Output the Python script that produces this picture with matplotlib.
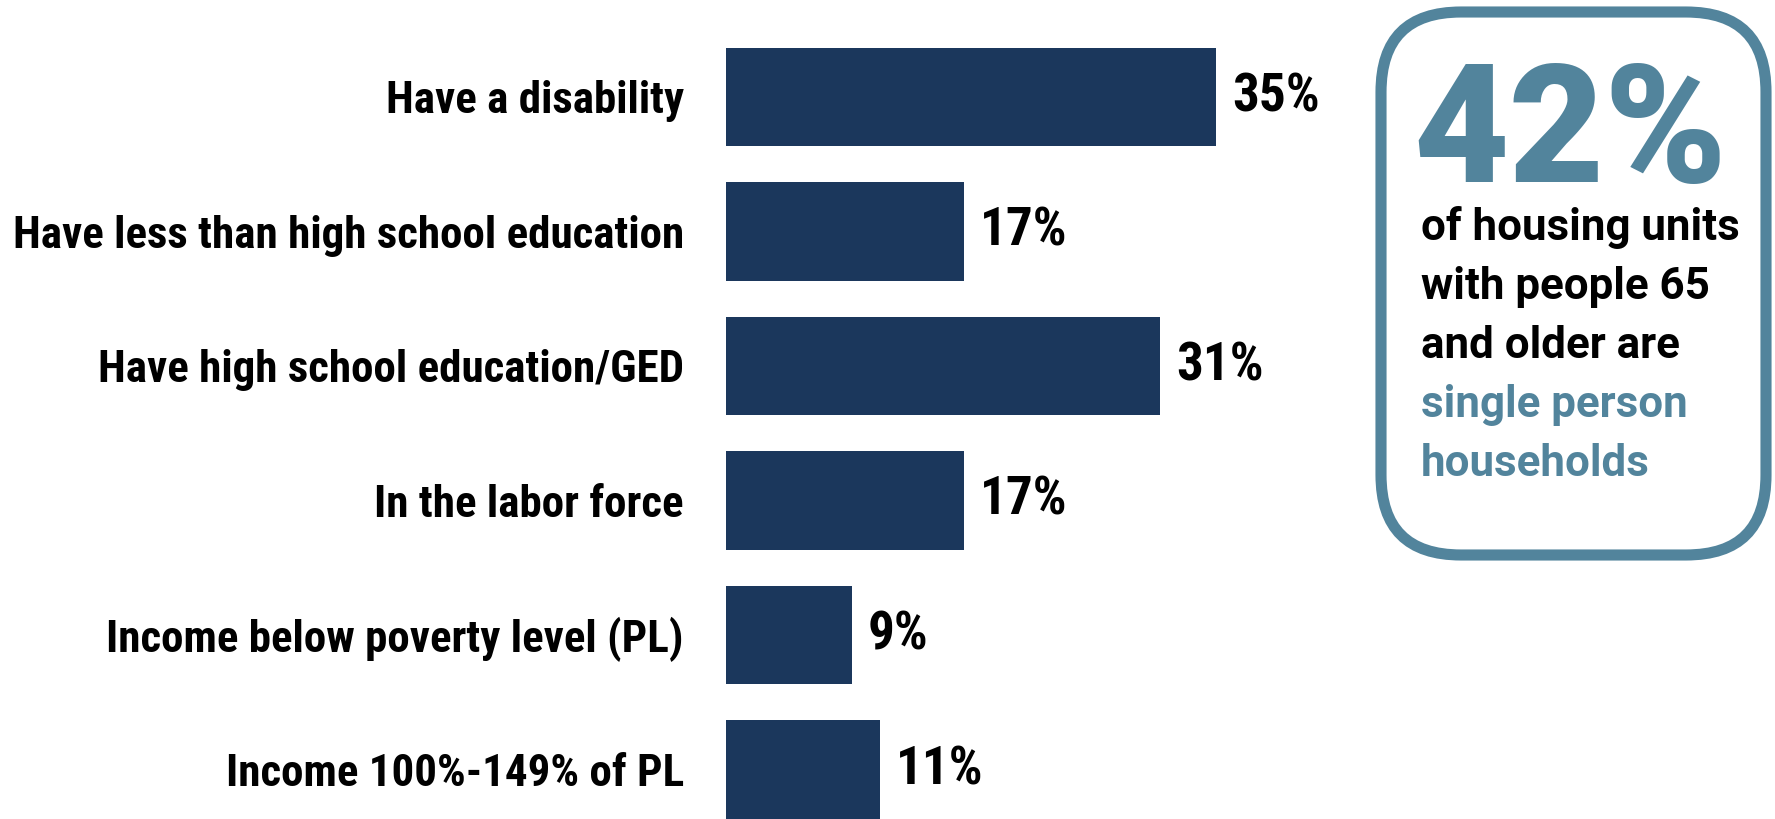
import matplotlib
matplotlib.use("Agg")
import matplotlib.pyplot as plt
from matplotlib.patches import FancyBboxPatch

categories = [
    "Have a disability",
    "Have less than high school education",
    "Have high school education/GED",
    "In the labor force",
    "Income below poverty level (PL)",
    "Income 100%-149% of PL",
]
values = [35, 17, 31, 17, 9, 11]
value_labels = ["35%", "17%", "31%", "17%", "9%", "11%"]

callout_value = "42%"
callout_lines = ["of housing units", "with people 65", "and older are"]
callout_highlight = ["single person", "households"]

BAR = "#1b375c"
ACCENT = "#52849c"
COND = ["Roboto Condensed", "Oswald", "Liberation Sans"]
GOTHIC = ["Roboto", "Liberation Sans"]

W, H = 1775, 819
fig = plt.figure(figsize=(W / 100, H / 100), dpi=100)
renderer = fig.canvas.get_renderer()


def fit_width(txt, target_px):
    # rescale a text so its rendered width hits target_px
    w = txt.get_window_extent(renderer).width
    txt.set_fontsize(txt.get_fontsize() * target_px / w)
    return txt.get_fontsize()


# bar axes: 14 px per percentage point
x0, x1 = 726, 726 + 14 * 40
ax = fig.add_axes([x0 / W, 0, (x1 - x0) / W, 1])
ax.set_xlim(0, 40)
ax.set_ylim(5.368, -0.721)
pos = list(range(len(categories)))
ax.barh(pos, values, height=0.732, color=BAR)
ax.set_yticks(pos)
ticklabels = ax.set_yticklabels(categories, fontsize=30, fontweight="bold", family=COND)
ax.tick_params(axis="y", length=0, pad=42 * 0.72)
ax.set_xticks([])
for s in ax.spines.values():
    s.set_visible(False)

size = fit_width(ticklabels[1], 672)
for t in ticklabels:
    t.set_fontsize(size)

vtexts = [ax.text(v + 16 / 14, i, lab, va="center", ha="left", fontsize=size,
                  fontweight="bold", family=COND)
          for i, (v, lab) in enumerate(zip(values, value_labels))]
vsize = fit_width(vtexts[0], 88)
for t in vtexts:
    t.set_fontsize(vsize)

# callout box on the right
box = FancyBboxPatch((1381, H - 555), 385, 543,
                     boxstyle="round,pad=0,rounding_size=80",
                     transform=None, fill=False, edgecolor=ACCENT, linewidth=8)
fig.add_artist(box)
big = fig.text(1413 / W, 1 - 182 / H, callout_value, fontsize=110, fontweight="black",
               color=ACCENT, ha="left", va="baseline", family=GOTHIC)
fit_width(big, 314)

y = 240
body = []
for line, col in [(l, "black") for l in callout_lines] + [(l, ACCENT) for l in callout_highlight]:
    body.append(fig.text(1421 / W, 1 - y / H, line, fontsize=27, fontweight="bold",
                         color=col, ha="left", va="baseline", family=GOTHIC))
    y += 59
bsize = fit_width(body[0], 319)
for t in body:
    t.set_fontsize(bsize)

fig.savefig("out.png", dpi=100)
